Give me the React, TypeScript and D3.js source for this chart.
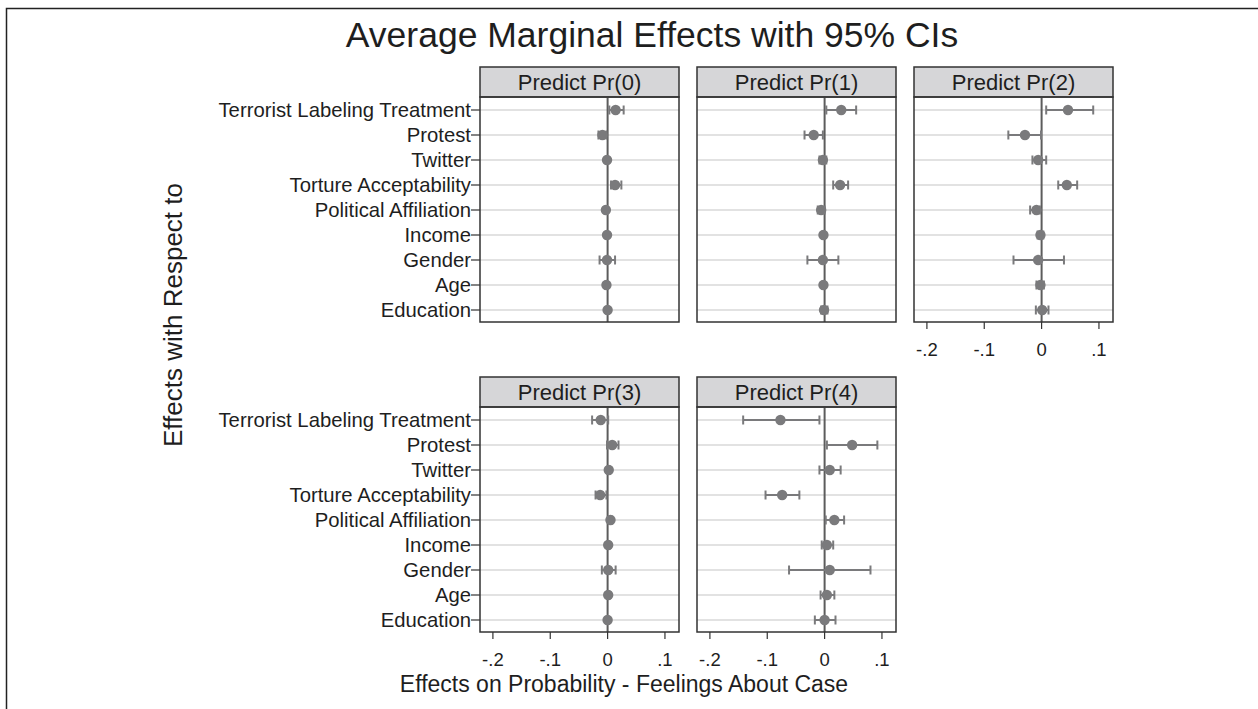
import React, { useEffect, useRef } from 'react';
import * as d3 from 'd3';

// covariates, top to bottom
const labels = [
  'Terrorist Labeling Treatment',
  'Protest',
  'Twitter',
  'Torture Acceptability',
  'Political Affiliation',
  'Income',
  'Gender',
  'Age',
  'Education',
];

const panelTitles = ['Predict Pr(0)', 'Predict Pr(1)', 'Predict Pr(2)', 'Predict Pr(3)', 'Predict Pr(4)'];

const pr0Est = [0.014, -0.009, -0.001, 0.013, -0.003, -0.001, -0.001, -0.002, 0.0];
const pr0Lo = [0.003, -0.016, -0.003, 0.006, -0.005, -0.003, -0.014, -0.004, -0.002];
const pr0Hi = [0.028, -0.002, 0.001, 0.024, -0.001, 0.001, 0.013, 0.0, 0.002];

const pr1Est = [0.029, -0.019, -0.003, 0.027, -0.006, -0.002, -0.003, -0.002, -0.001];
const pr1Lo = [0.003, -0.035, -0.009, 0.015, -0.012, -0.004, -0.03, -0.004, -0.006];
const pr1Hi = [0.055, -0.003, 0.003, 0.041, 0.0, 0.0, 0.024, 0.0, 0.005];

const pr2Est = [0.046, -0.029, -0.006, 0.044, -0.009, -0.002, -0.006, -0.002, 0.001];
const pr2Lo = [0.008, -0.058, -0.016, 0.029, -0.02, -0.007, -0.049, -0.009, -0.01];
const pr2Hi = [0.09, -0.001, 0.008, 0.062, -0.003, 0.003, 0.039, 0.004, 0.012];

const pr3Est = [-0.012, 0.008, 0.002, -0.013, 0.005, 0.001, 0.001, 0.001, 0.0];
const pr3Lo = [-0.027, -0.001, 0.0, -0.021, 0.002, -0.001, -0.01, -0.001, -0.002];
const pr3Hi = [0.001, 0.019, 0.004, -0.002, 0.008, 0.003, 0.014, 0.003, 0.002];

const pr4Est = [-0.077, 0.048, 0.009, -0.074, 0.017, 0.004, 0.009, 0.004, 0.0];
const pr4Lo = [-0.142, 0.004, -0.009, -0.103, 0.002, -0.005, -0.062, -0.007, -0.017];
const pr4Hi = [-0.009, 0.092, 0.028, -0.044, 0.034, 0.015, 0.08, 0.017, 0.019];

const xTicks = [-0.2, -0.1, 0, 0.1];
const xDomain = [-0.2225, 0.1245];

const FONT = '"Liberation Sans", Arial, Helvetica, sans-serif';

// stata style: -.2, -.1, 0, .1
const tickFmt = (d) => {
  if (d === 0) return '0';
  const s = Math.abs(d).toFixed(1).replace(/^0/, '');
  return (d < 0 ? '-' : '') + s;
};

const App = () => {
  const svgRef = useRef(null);
  const width = 1258;
  const height = 709;

  useEffect(() => {
    const svg = d3.select(svgRef.current);
    svg.selectAll('*').remove();

    const est = [pr0Est, pr1Est, pr2Est, pr3Est, pr4Est];
    const lo = [pr0Lo, pr1Lo, pr2Lo, pr3Lo, pr4Lo];
    const hi = [pr0Hi, pr1Hi, pr2Hi, pr3Hi, pr4Hi];

    const colX = [480, 697, 914];
    const panelW = 199;
    const headH = 30;
    const rowTop = [67, 377];
    const plotH = 225;

    // outer frame (runs off the right / bottom)
    svg.append('rect')
      .attr('x', 6.5).attr('y', 8.5)
      .attr('width', width + 40).attr('height', height + 40)
      .attr('fill', 'white').attr('stroke', '#222').attr('stroke-width', 1.5);

    svg.append('text')
      .attr('x', 652).attr('y', 47)
      .attr('text-anchor', 'middle')
      .style('font-size', '35.5px')
      .attr('fill', '#1e1e1e')
      .text('Average Marginal Effects with 95% CIs');

    panelTitles.forEach((title, p) => {
      const col = p < 3 ? p : p - 3;
      const row = p < 3 ? 0 : 1;
      const left = colX[col];
      const top = rowTop[row];
      const plotTop = top + headH;
      const plotBottom = plotTop + plotH;

      const x = d3.scaleLinear().domain(xDomain).range([left, left + panelW]);
      const y = d3.scalePoint().domain(labels).range([plotTop + 13, plotBottom - 12]);

      const g = svg.append('g');

      // header strip
      g.append('rect')
        .attr('x', left).attr('y', top)
        .attr('width', panelW).attr('height', headH)
        .attr('fill', '#d6d6d8').attr('stroke', '#333').attr('stroke-width', 1.5);
      g.append('text')
        .attr('x', left + panelW / 2).attr('y', top + headH / 2)
        .attr('dy', '0.36em')
        .attr('text-anchor', 'middle')
        .style('font-size', '22px')
        .attr('fill', '#1e1e1e')
        .text(title);

      // row grid
      g.selectAll('.grid').data(labels).enter().append('line')
        .attr('x1', left).attr('x2', left + panelW)
        .attr('y1', d => y(d)).attr('y2', d => y(d))
        .attr('stroke', '#e2e2e2').attr('stroke-width', 2);

      // zero reference
      g.append('line')
        .attr('x1', x(0)).attr('x2', x(0))
        .attr('y1', plotTop).attr('y2', plotBottom)
        .attr('stroke', '#5c5c5c').attr('stroke-width', 2);

      const rows = labels.map((l, i) => ({ l, e: est[p][i], lo: lo[p][i], hi: hi[p][i] }));
      const mark = '#7a7a7c';

      g.selectAll('.ci').data(rows).enter().append('line')
        .attr('x1', d => x(d.lo)).attr('x2', d => x(d.hi))
        .attr('y1', d => y(d.l)).attr('y2', d => y(d.l))
        .attr('stroke', mark).attr('stroke-width', 2);
      g.selectAll('.capl').data(rows).enter().append('line')
        .attr('x1', d => x(d.lo)).attr('x2', d => x(d.lo))
        .attr('y1', d => y(d.l) - 4.5).attr('y2', d => y(d.l) + 4.5)
        .attr('stroke', mark).attr('stroke-width', 2);
      g.selectAll('.caph').data(rows).enter().append('line')
        .attr('x1', d => x(d.hi)).attr('x2', d => x(d.hi))
        .attr('y1', d => y(d.l) - 4.5).attr('y2', d => y(d.l) + 4.5)
        .attr('stroke', mark).attr('stroke-width', 2);
      g.selectAll('.pt').data(rows).enter().append('circle')
        .attr('cx', d => x(d.e)).attr('cy', d => y(d.l))
        .attr('r', 5.2)
        .attr('fill', mark);

      // panel border
      g.append('rect')
        .attr('x', left).attr('y', plotTop)
        .attr('width', panelW).attr('height', plotH)
        .attr('fill', 'none').attr('stroke', '#333').attr('stroke-width', 1.5);

      // y axis on first column
      if (col === 0) {
        g.selectAll('.ytick').data(labels).enter().append('line')
          .attr('x1', left - 9).attr('x2', left)
          .attr('y1', d => y(d)).attr('y2', d => y(d))
          .attr('stroke', '#333').attr('stroke-width', 1.2);
        g.selectAll('.ylab').data(labels).enter().append('text')
          .attr('x', left - 9).attr('y', d => y(d))
          .attr('dy', '0.36em')
          .attr('text-anchor', 'end')
          .style('font-size', '20.3px')
          .attr('fill', '#1e1e1e')
          .text(d => d);
      }

      // x axis where the panel has nothing below it
      if (p >= 2) {
        g.selectAll('.xtick').data(xTicks).enter().append('line')
          .attr('x1', d => x(d)).attr('x2', d => x(d))
          .attr('y1', plotBottom).attr('y2', plotBottom + 7)
          .attr('stroke', '#333').attr('stroke-width', 1.2);
        g.selectAll('.xlab').data(xTicks).enter().append('text')
          .attr('x', d => x(d)).attr('y', plotBottom + 34)
          .attr('text-anchor', 'middle')
          .style('font-size', '18.5px')
          .attr('fill', '#1e1e1e')
          .text(tickFmt);
      }
    });

    svg.append('text')
      .attr('x', 624).attr('y', 692)
      .attr('text-anchor', 'middle')
      .style('font-size', '23px')
      .attr('fill', '#1e1e1e')
      .text('Effects on Probability - Feelings About Case');

    svg.append('text')
      .attr('transform', 'translate(182,315) rotate(-90)')
      .attr('text-anchor', 'middle')
      .style('font-size', '26px')
      .attr('fill', '#1e1e1e')
      .text('Effects with Respect to');
  }, []);

  return (
    <svg
      ref={svgRef}
      width={width}
      height={height}
      style={{ position: 'absolute', left: 0, top: 0, fontFamily: FONT, background: 'white' }}
    />
  );
};

export default App;
